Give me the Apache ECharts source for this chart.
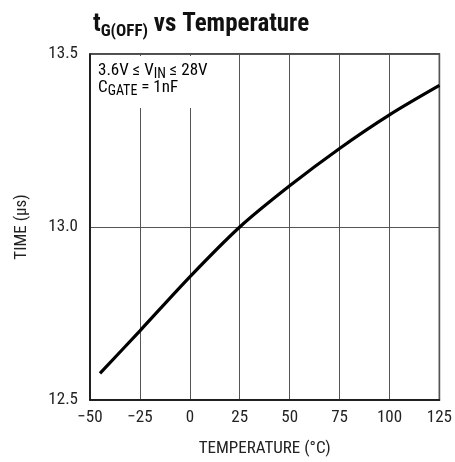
<!DOCTYPE html>
<html>
<head>
<meta charset="utf-8">
<script src="https://cdn.jsdelivr.net/npm/echarts@6/dist/echarts.min.js"></script>
<style>
  html, body { margin: 0; padding: 0; background: #fff; }
  #chart { width: 455px; height: 462px; }
</style>
</head>
<body>
<div id="chart"></div>
<script>
// values
const temps = [-45, -25, 0, 25, 50, 75, 100, 125]
const times = [12.577, 12.70, 12.856, 13.0, 13.119, 13.227, 13.324, 13.409]
const xTicks = [-50, -25, 0, 25, 50, 75, 100, 125]
const yTicks = [12.5, 13.0, 13.5]

const font = '"Liberation Sans Narrow", "Roboto Condensed", "Arial Narrow", "Liberation Sans", sans-serif'

const chart = echarts.init(document.getElementById('chart'))
chart.setOption({
  backgroundColor: '#fff',
  animation: false,
  title: {
    text: '{t|t}{s|G(OFF)}{t| vs Temperature}',
    left: 88,
    top: 5,
    textStyle: {
      rich: {
        t: { fontFamily: font, fontWeight: 'bold', fontSize: 25, color: '#111' },
        s: { fontFamily: font, fontWeight: 'bold', fontSize: 17, color: '#111', padding: [13, 0, 0, 0] }
      }
    }
  },
  grid: {
    left: 90, right: 12, top: 54, bottom: 57,
    show: true, borderColor: '#111', borderWidth: 1.5, backgroundColor: 'transparent'
  },
  xAxis: {
    type: 'value',
    min: -50, max: 125, interval: 25,
    name: 'TEMPERATURE (°C)',
    nameLocation: 'middle',
    nameGap: 40,
    nameTextStyle: { fontFamily: font, fontSize: 17, color: '#222' },
    axisLine: { onZero: false, lineStyle: { color: '#111', width: 1.5 } },
    axisTick: { show: false },
    axisLabel: {
      fontFamily: font, fontSize: 17, color: '#222', margin: 9,
      formatter: v => String(v).replace('-', '\u2212')
    },
    splitLine: { show: true, lineStyle: { color: '#555', width: 1 } }
  },
  yAxis: {
    type: 'value',
    min: 12.5, max: 13.5, interval: 0.5,
    name: 'TIME (µs)',
    nameLocation: 'middle',
    nameGap: 60,
    nameTextStyle: { fontFamily: font, fontSize: 17, color: '#222' },
    axisLine: { onZero: false, lineStyle: { color: '#111', width: 1.5 } },
    axisTick: { show: false },
    axisLabel: {
      fontFamily: font, fontSize: 17, color: '#222', margin: 12,
      formatter: v => yTicks.includes(+v.toFixed(1)) ? v.toFixed(1) : ''
    },
    splitLine: { show: true, lineStyle: { color: '#555', width: 1 } }
  },
  series: [{
    type: 'line',
    data: temps.map((t, i) => [t, times[i]]),
    smooth: 0.3,
    symbol: 'none',
    lineStyle: { color: '#000', width: 3.2 },
    z: 5
  }],
  graphic: [{
    type: 'rect',
    left: 92, top: 56,
    shape: { width: 140, height: 52 },
    style: { fill: '#fff' },
    z: 3
  }, {
    type: 'text',
    left: 98, top: 61,
    style: {
      text: '{n|3.6V ≤ V}{b|IN}{n| ≤ 28V}\n{n|C}{b|GATE}{n| = 1nF}',
      rich: {
        n: { fontFamily: font, fontSize: 17, color: '#111', lineHeight: 17 },
        b: { fontFamily: font, fontSize: 14, color: '#111', lineHeight: 17, padding: [6, 0, 0, 0] }
      }
    },
    z: 4
  }]
})
</script>
</body>
</html>
